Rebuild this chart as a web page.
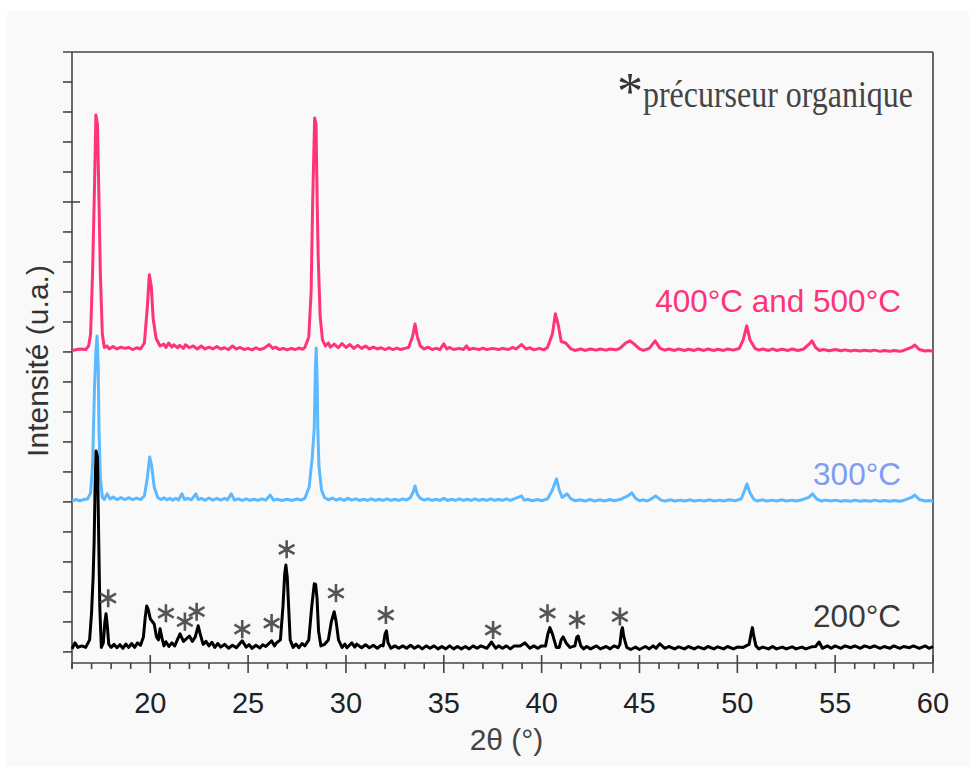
<!DOCTYPE html>
<html>
<head>
<meta charset="utf-8">
<script src="https://cdn.jsdelivr.net/npm/d3@7"></script>
<style>
  body { margin: 0; background: #fff; }
  svg { display: block; }
</style>
</head>
<body>
<div id="chart"></div>
<script>
// Diffractogram values: [2theta, intensity above baseline]
const series400500 = [
  [16.0,0.05],[16.4,0.1],[16.7,0.08],[16.85,0.2],[16.95,0.6],[17.05,2.6],[17.15,5.5],[17.22,7.9],[17.3,7.6],[17.38,5.0],
  [17.45,2.6],[17.55,0.6],[17.65,0.15],[17.8,0.2],[17.9,0.1],[18.1,0.18],[18.3,0.1],[18.5,0.16],[18.7,0.12],[18.9,0.15],
  [19.1,0.08],[19.3,0.14],[19.5,0.1],[19.7,0.3],[19.85,1.5],
  [19.95,2.57],[20.05,2.2],[20.15,1.1],[20.3,0.45],[20.5,0.2],[20.7,0.26],[20.8,0.15],[20.94,0.3],[21.1,0.16],[21.2,0.24],
  [21.4,0.14],[21.5,0.22],[21.7,0.12],[21.8,0.24],[22.0,0.14],[22.2,0.2],[22.4,0.1],[22.6,0.2],[22.8,0.1],[23.0,0.16],
  [23.2,0.1],[23.4,0.18],[23.6,0.1],[23.8,0.14],[24.0,0.08],[24.2,0.2],[24.4,0.1],[24.6,0.15],[24.8,0.08],[25.0,0.12],
  [25.2,0.07],[25.4,0.14],[25.6,0.08],[25.8,0.12],[26.08,0.25],[26.25,0.12],[26.4,0.16],[26.6,0.08],[26.8,0.12],[27.0,0.07],
  [27.2,0.12],[27.4,0.08],[27.6,0.13],[27.8,0.09],[27.9,0.15],[28.1,0.5],[28.22,2.0],[28.3,5.0],[28.4,7.8],
  [28.47,7.6],[28.53,5.0],[28.58,3.2],[28.68,1.2],[28.8,0.4],[28.95,0.2],[29.1,0.3],[29.2,0.16],[29.4,0.26],[29.6,0.14],
  [29.8,0.28],[30.0,0.15],[30.2,0.25],[30.4,0.12],[30.6,0.22],
  [30.8,0.12],[31.0,0.2],[31.2,0.1],[31.4,0.16],[31.6,0.1],[31.8,0.14],[32.0,0.08],[32.2,0.14],[32.4,0.08],[32.6,0.13],
  [32.8,0.08],[33.0,0.12],[33.2,0.15],[33.4,0.5],[33.53,0.93],[33.65,0.5],
  [33.8,0.2],[34.0,0.1],[34.2,0.16],[34.4,0.08],[34.6,0.12],[34.8,0.08],[35.0,0.27],[35.15,0.1],[35.3,0.15],[35.5,0.08],
  [35.8,0.12],[36.0,0.08],[36.16,0.2],[36.3,0.08],[36.5,0.12],[36.8,0.08],[37.0,0.13],[37.2,0.08],[37.5,0.12],[37.8,0.08],
  [38.0,0.12],[38.3,0.08],[38.5,0.15],[38.7,0.1],[38.98,0.25],[39.2,0.1],[39.4,0.14],[39.6,0.07],[39.9,0.12],[40.1,0.07],
  [40.3,0.15],[40.55,0.6],[40.7,1.27],[40.85,0.9],[41.0,0.35],
  [41.23,0.3],[41.5,0.1],[41.7,0.05],[42.0,0.1],[42.2,0.05],[42.5,0.1],[42.8,0.06],[43.0,0.1],[43.3,0.06],[43.5,0.1],
  [43.8,0.07],[44.0,0.12],[44.3,0.3],[44.52,0.37],[44.75,0.25],
  [45.0,0.1],[45.2,0.05],[45.5,0.12],[45.8,0.37],[46.05,0.12],[46.3,0.06],[46.5,0.1],[46.8,0.05],[47.0,0.1],[47.3,0.05],
  [47.5,0.09],[47.8,0.05],[48.0,0.1],[48.3,0.05],[48.5,0.1],[48.8,0.05],[49.0,0.09],[49.3,0.05],
  [49.5,0.1],[49.8,0.06],[50.1,0.12],[50.3,0.4],[50.48,0.87],[50.65,0.4],[50.9,0.12],[51.1,0.06],[51.3,0.1],[51.6,0.05],
  [51.8,0.1],[52.0,0.05],[52.3,0.09],[52.6,0.05],[52.8,0.1],[53.1,0.05],
  [53.4,0.1],[53.65,0.25],[53.82,0.37],[54.0,0.15],[54.2,0.05],[54.4,0.08],[54.7,0.04],[55.0,0.08],[55.3,0.04],[55.5,0.07],
  [55.8,0.03],[56.0,0.06],[56.3,0.03],[56.5,0.06],[56.8,0.03],[57.0,0.06],
  [57.3,0.02],[57.5,0.05],[57.8,0.02],[58.0,0.05],[58.3,0.02],[58.5,0.05],[58.9,0.15],[59.07,0.23],[59.3,0.08],[59.6,0.03],
  [59.8,0.05],[60.0,0.02]
];

const series300 = [
  [16.0,0.03],[16.2,0.08],[16.4,0.04],[16.6,0.08],[16.8,0.1],[16.95,0.3],[17.05,1.2],[17.15,3.8],[17.22,5.0],[17.28,5.53],
  [17.34,4.5],[17.38,2.37],[17.45,0.8],[17.55,0.15],[17.65,0.08],[17.79,0.27],[17.95,0.1],[18.1,0.16],[18.3,0.08],
  [18.5,0.14],[18.7,0.08],[18.9,0.14],[19.1,0.08],[19.3,0.13],[19.5,0.08],[19.7,0.2],[19.85,0.8],
  [19.97,1.5],[20.07,1.2],[20.2,0.5],[20.38,0.15],[20.55,0.08],[20.7,0.14],[20.85,0.07],[21.0,0.12],[21.15,0.06],
  [21.3,0.12],[21.45,0.07],[21.62,0.27],[21.75,0.08],[21.9,0.12],[22.1,0.07],[22.33,0.27],
  [22.45,0.08],[22.6,0.12],[22.8,0.06],[23.0,0.13],[23.2,0.06],[23.4,0.12],[23.6,0.06],[23.8,0.12],[23.95,0.07],
  [24.14,0.27],[24.3,0.06],[24.5,0.1],[24.7,0.05],[24.9,0.1],[25.1,0.05],[25.3,0.09],[25.5,0.05],[25.7,0.1],[25.9,0.06],
  [26.13,0.23],[26.3,0.06],[26.5,0.09],[26.7,0.05],[27.0,0.09],[27.2,0.05],[27.5,0.1],[27.7,0.06],[27.9,0.12],[28.12,0.5],
  [28.28,1.5],[28.38,2.47],[28.44,4.5],[28.48,5.13],[28.53,4.0],
  [28.56,2.47],[28.62,1.2],[28.75,0.4],[28.9,0.15],[29.1,0.07],[29.3,0.13],[29.5,0.06],[29.7,0.11],[29.9,0.05],[30.1,0.12],
  [30.3,0.06],[30.5,0.1],[30.7,0.05],[30.9,0.09],[31.1,0.05],[31.3,0.1],[31.5,0.05],
  [31.7,0.09],[31.9,0.05],[32.1,0.1],[32.3,0.05],[32.5,0.09],[32.7,0.05],[32.9,0.1],[33.1,0.06],[33.3,0.15],[33.45,0.35],
  [33.53,0.53],[33.65,0.25],[33.8,0.12],[34.0,0.06],[34.2,0.1],[34.4,0.05],
  [34.6,0.09],[34.8,0.05],[35.0,0.12],[35.2,0.05],[35.4,0.09],[35.6,0.05],[35.8,0.1],[36.0,0.05],[36.2,0.09],[36.4,0.05],
  [36.6,0.1],[36.8,0.05],[37.0,0.09],[37.2,0.05],[37.4,0.1],[37.6,0.05],[37.8,0.09],[38.0,0.05],[38.2,0.1],[38.4,0.05],
  [38.6,0.1],[38.98,0.2],[39.1,0.06],[39.3,0.09],[39.5,0.04],[39.8,0.08],[40.0,0.04],[40.3,0.1],[40.55,0.4],[40.76,0.77],
  [40.9,0.4],[41.05,0.15],[41.3,0.27],
  [41.5,0.1],[41.7,0.04],[42.0,0.07],[42.2,0.03],[42.5,0.08],[42.7,0.03],[43.0,0.07],[43.2,0.03],[43.5,0.08],[43.7,0.04],
  [44.0,0.08],[44.4,0.2],[44.61,0.3],[44.8,0.12],[45.0,0.04],[45.2,0.07],[45.4,0.03],
  [45.6,0.1],[45.82,0.2],[46.1,0.06],[46.3,0.03],[46.6,0.07],[46.8,0.03],[47.1,0.06],[47.3,0.03],[47.6,0.07],[47.8,0.03],
  [48.1,0.06],[48.3,0.03],[48.6,0.07],[48.8,0.03],[49.1,0.06],[49.3,0.03],[49.6,0.07],[49.9,0.04],
  [50.2,0.1],[50.35,0.35],[50.49,0.6],[50.65,0.3],[50.85,0.08],[51.0,0.03],[51.3,0.07],[51.5,0.03],[51.8,0.06],[52.0,0.03],
  [52.3,0.07],[52.5,0.03],[52.8,0.06],[53.0,0.03],[53.3,0.07],
  [53.65,0.15],[53.85,0.27],[54.05,0.1],[54.3,0.03],[54.5,0.06],[54.8,0.03],[55.0,0.06],[55.3,0.02],[55.5,0.05],[55.8,0.02],
  [56.0,0.06],[56.3,0.02],[56.5,0.05],[56.8,0.02],[57.0,0.06],[57.3,0.02],[57.5,0.05],[57.8,0.02],
  [58.0,0.05],[58.3,0.02],[58.5,0.05],[58.9,0.15],[59.07,0.23],[59.3,0.08],[59.6,0.03],[59.8,0.05],[60.0,0.02]
];

const series200 = [
  [16.0,0.1],[16.15,0.3],[16.3,0.15],[16.5,0.2],[16.7,0.15],[16.9,0.4],[17.0,1.31],[17.08,2.5],[17.13,3.64],[17.18,5.5],
  [17.23,6.7],[17.3,6.5],[17.36,4.0],[17.42,1.5],[17.5,0.15],[17.6,0.3],[17.68,1.0],[17.74,1.27],[17.8,0.9],[17.88,0.25],
  [18.0,0.15],[18.15,0.25],[18.3,0.14],[18.45,0.24],[18.6,0.12],[18.75,0.26],[18.9,0.15],[19.05,0.28],[19.2,0.15],
  [19.35,0.3],[19.5,0.22],[19.65,0.5],[19.75,1.2],[19.82,1.53],[19.9,1.4],
  [20.0,1.1],[20.2,0.93],[20.32,0.5],[20.42,0.4],[20.5,0.77],[20.6,0.45],[20.7,0.2],[20.8,0.34],[20.95,0.18],[21.1,0.3],
  [21.25,0.2],[21.35,0.35],[21.52,0.6],
  [21.7,0.35],[22.0,0.53],[22.15,0.35],[22.3,0.5],[22.45,0.87],[22.55,0.6],[22.7,0.25],[22.85,0.35],[23.0,0.2],[23.15,0.32],
  [23.3,0.15],[23.45,0.28],[23.6,0.16],
  [23.8,0.25],[24.0,0.12],[24.2,0.22],[24.4,0.14],[24.7,0.37],[24.9,0.16],[25.05,0.24],[25.2,0.12],[25.4,0.22],[25.6,0.13],
  [25.75,0.24],[25.9,0.18],[26.2,0.37],[26.35,0.2],[26.45,0.3],[26.65,0.4],
  [26.78,1.5],[26.87,2.6],[26.93,2.9],[27.0,2.5],[27.07,1.5],[27.15,0.4],[27.3,0.15],[27.45,0.26],[27.6,0.14],[27.75,0.28],
  [27.9,0.2],[28.1,0.4],
  [28.25,1.5],[28.38,2.27],[28.45,2.25],[28.52,1.8],[28.6,0.7],[28.72,0.2],[28.9,0.25],[29.1,0.4],[29.25,1.0],[29.4,1.34],
  [29.5,1.0],[29.62,0.4],[29.8,0.15],[29.95,0.26],[30.05,0.14],[30.3,0.3],[30.45,0.16],[30.55,0.26],[30.8,0.14],[31.0,0.24],
  [31.2,0.14],[31.4,0.22],[31.6,0.12],[31.8,0.22],[31.9,0.2],
  [32.0,0.6],[32.07,0.7],[32.15,0.3],[32.3,0.12],[32.5,0.2],[32.7,0.12],[32.9,0.2],[33.1,0.12],[33.3,0.22],[33.5,0.12],
  [33.7,0.2],[33.9,0.1],[34.1,0.2],[34.3,0.12],[34.5,0.2],[34.7,0.1],[34.9,0.18],[35.1,0.1],[35.3,0.2],[35.5,0.1],
  [35.7,0.18],[35.9,0.1],[36.1,0.18],[36.3,0.1],[36.5,0.2],[36.7,0.12],[36.9,0.2],[37.2,0.12],[37.44,0.33],[37.65,0.12],
  [37.8,0.2],[38.0,0.12],[38.2,0.2],[38.4,0.1],[38.6,0.2],[38.9,0.2],[39.14,0.3],
  [39.4,0.12],[39.6,0.2],[39.8,0.12],[40.0,0.2],[40.2,0.2],[40.32,0.6],[40.42,0.81],[40.55,0.6],[40.75,0.15],[40.9,0.15],
  [41.0,0.4],[41.1,0.5],[41.25,0.3],[41.45,0.15],[41.7,0.2],[41.8,0.5],[41.87,0.53],[42.0,0.2],[42.15,0.1],[42.3,0.18],
  [42.5,0.1],[42.8,0.2],[43.0,0.1],[43.3,0.18],[43.5,0.1],[43.7,0.2],[43.9,0.14],
  [44.0,0.25],[44.08,0.7],[44.13,0.81],[44.2,0.5],[44.35,0.15],[44.55,0.08],[44.8,0.16],[45.0,0.08],[45.3,0.18],[45.5,0.1],
  [45.7,0.2],[45.85,0.12],[46.04,0.27],[46.3,0.12],[46.5,0.18],[46.8,0.1],[47.0,0.17],[47.3,0.1],[47.5,0.18],[47.8,0.1],
  [48.0,0.17],[48.3,0.1],[48.5,0.18],[48.8,0.1],[49.0,0.17],[49.3,0.1],[49.5,0.18],[49.8,0.1],[50.0,0.16],[50.3,0.15],
  [50.6,0.25],[50.7,0.6],
  [50.77,0.81],[50.85,0.5],[50.95,0.2],[51.1,0.1],[51.3,0.16],[51.6,0.1],[51.8,0.18],[52.0,0.1],[52.3,0.16],[52.5,0.1],
  [52.8,0.17],[53.0,0.1],[53.3,0.16],[53.5,0.1],[53.8,0.17],[54.0,0.18],
  [54.18,0.33],[54.35,0.12],[54.6,0.2],[54.8,0.12],[55.0,0.2],[55.3,0.12],[55.5,0.2],[55.8,0.14],[56.0,0.2],[56.3,0.12],
  [56.5,0.2],[56.8,0.14],[57.0,0.2],[57.3,0.12],[57.5,0.18],[57.8,0.12],[58.0,0.2],[58.3,0.12],[58.5,0.18],[58.8,0.14],
  [59.0,0.2],[59.3,0.12],[59.6,0.2],[59.8,0.12],[60.0,0.18]
];

// organic precursor peaks marked on the 200°C pattern: [2theta, height]
const precursorMarks = [
  [17.85,1.79],[20.80,1.29],[21.77,1.01],[22.37,1.34],[24.70,0.76],[26.20,0.96],[26.97,3.42],
  [29.49,1.96],[32.04,1.23],[37.52,0.73],[40.30,1.29],[41.81,1.07],[44.00,1.18]
];

const seriesNames = ['400°C and 500°C', '300°C', '200°C'];
const seriesOffsets = [10, 5, 0];
const seriesColors = ['#ff3377', '#5cb8ff', '#000000'];
const labelColors = ['#ff3377', '#7f9cf2', '#3a3a3a'];
const xTickLabels = [20, 25, 30, 35, 40, 45, 50, 55, 60];

const width = 976;
const height = 772;
const margin = { top: 52, right: 43, bottom: 109, left: 72 };

const svg = d3
  .select('#chart')
  .append('svg')
  .attr('width', width)
  .attr('height', height);

// light grey panel behind the figure
svg
  .append('rect')
  .attr('x', 7)
  .attr('y', 11)
  .attr('width', 962)
  .attr('height', 755)
  .attr('fill', '#f9f9f9');

const xScale = d3
  .scaleLinear()
  .domain([16, 60])
  .range([margin.left, width - margin.right]);

const yScale = d3
  .scaleLinear()
  .domain([-0.37, 20])
  .range([height - margin.bottom, margin.top]);

const axisColor = '#444';

// frame: top and right lines
svg
  .append('line')
  .attr('x1', margin.left - 9)
  .attr('x2', xScale(60))
  .attr('y1', yScale(20))
  .attr('y2', yScale(20))
  .attr('stroke', axisColor)
  .attr('stroke-width', 1.6);

svg
  .append('line')
  .attr('x1', xScale(60))
  .attr('x2', xScale(60))
  .attr('y1', yScale(20))
  .attr('y2', yScale(-0.37))
  .attr('stroke', axisColor)
  .attr('stroke-width', 1.6);

// bottom axis with minor ticks every degree
const xAxis = svg
  .append('g')
  .attr('transform', `translate(0,${yScale(-0.37)})`);

xAxis
  .append('line')
  .attr('x1', xScale(16))
  .attr('x2', xScale(60))
  .attr('stroke', axisColor)
  .attr('stroke-width', 1.6);

xAxis
  .selectAll('.xtick')
  .data(d3.range(16, 61, 1))
  .enter()
  .append('line')
  .attr('class', 'xtick')
  .attr('x1', (d) => xScale(d))
  .attr('x2', (d) => xScale(d))
  .attr('y1', (d) => (d % 5 === 0 ? -8 : 0))
  .attr('y2', (d) => (d % 5 === 0 ? 10 : 6))
  .attr('stroke', axisColor)
  .attr('stroke-width', 1.6);

xAxis
  .selectAll('.xlabel')
  .data(xTickLabels)
  .enter()
  .append('text')
  .attr('class', 'xlabel')
  .attr('x', (d) => xScale(d))
  .attr('y', 50)
  .attr('text-anchor', 'middle')
  .attr('font-family', 'Liberation Sans, Arial, sans-serif')
  .attr('font-size', '29px')
  .attr('fill', '#222')
  .text((d) => d);

// left axis, unlabelled ticks
const yAxis = svg.append('g').attr('transform', `translate(${margin.left},0)`);

yAxis
  .append('line')
  .attr('y1', yScale(20))
  .attr('y2', yScale(-0.37) + 6)
  .attr('stroke', axisColor)
  .attr('stroke-width', 1.6);

yAxis
  .selectAll('.ytick')
  .data(d3.range(0, 20, 1))
  .enter()
  .append('line')
  .attr('class', 'ytick')
  .attr('y1', (d) => yScale(d))
  .attr('y2', (d) => yScale(d))
  .attr('x1', -9)
  .attr('x2', (d) => (d === 15 ? 8 : 0))
  .attr('stroke', axisColor)
  .attr('stroke-width', 1.6);

// axis titles
svg
  .append('text')
  .attr('x', (xScale(16) + xScale(60)) / 2 + 4)
  .attr('y', 750)
  .attr('text-anchor', 'middle')
  .attr('font-family', 'Liberation Sans, Arial, sans-serif')
  .attr('font-size', '30px')
  .attr('fill', '#444')
  .text('2θ (°)');

svg
  .append('text')
  .attr('transform', 'translate(48,361) rotate(-90)')
  .attr('text-anchor', 'middle')
  .attr('font-family', 'Liberation Sans, Arial, sans-serif')
  .attr('font-size', '30px')
  .attr('fill', '#333')
  .text('Intensité (u.a.)');

// patterns
const allSeries = [series400500, series300, series200];

allSeries.forEach((data, i) => {
  const line = d3
    .line()
    .x((d) => xScale(d[0]))
    .y((d) => yScale(d[1] + seriesOffsets[i]));

  svg
    .append('path')
    .datum(data)
    .attr('fill', 'none')
    .attr('stroke', seriesColors[i])
    .attr('stroke-width', 3)
    .attr('stroke-linejoin', 'round')
    .attr('d', line);
});

// series labels
const labelY = [312, 485, 627];
seriesNames.forEach((name, i) => {
  svg
    .append('text')
    .attr('x', 901)
    .attr('y', labelY[i])
    .attr('text-anchor', 'end')
    .attr('font-family', 'Liberation Sans, Arial, sans-serif')
    .attr('font-size', '31.5px')
    .attr('fill', labelColors[i])
    .text(name);
});

// asterisks for organic precursor
const star = d3.symbol().type(d3.symbolAsterisk).size(230);

svg
  .selectAll('.mark')
  .data(precursorMarks)
  .enter()
  .append('path')
  .attr('class', 'mark')
  .attr('transform', (d) => `translate(${xScale(d[0])},${yScale(d[1])})`)
  .attr('d', star)
  .attr('fill', 'none')
  .attr('stroke', '#555')
  .attr('stroke-width', 2.6);

// legend text
svg
  .append('text')
  .attr('x', 617)
  .attr('y', 109)
  .attr('font-family', 'Liberation Serif, Times New Roman, serif')
  .attr('font-size', '52px')
  .attr('fill', '#333')
  .text('*');

svg
  .append('text')
  .attr('x', 643)
  .attr('y', 107)
  .attr('font-family', 'Liberation Serif, Times New Roman, serif')
  .attr('font-size', '38px')
  .attr('fill', '#444')
  .attr('textLength', 270)
  .attr('lengthAdjust', 'spacingAndGlyphs')
  .text('précurseur organique');
</script>
</body>
</html>
